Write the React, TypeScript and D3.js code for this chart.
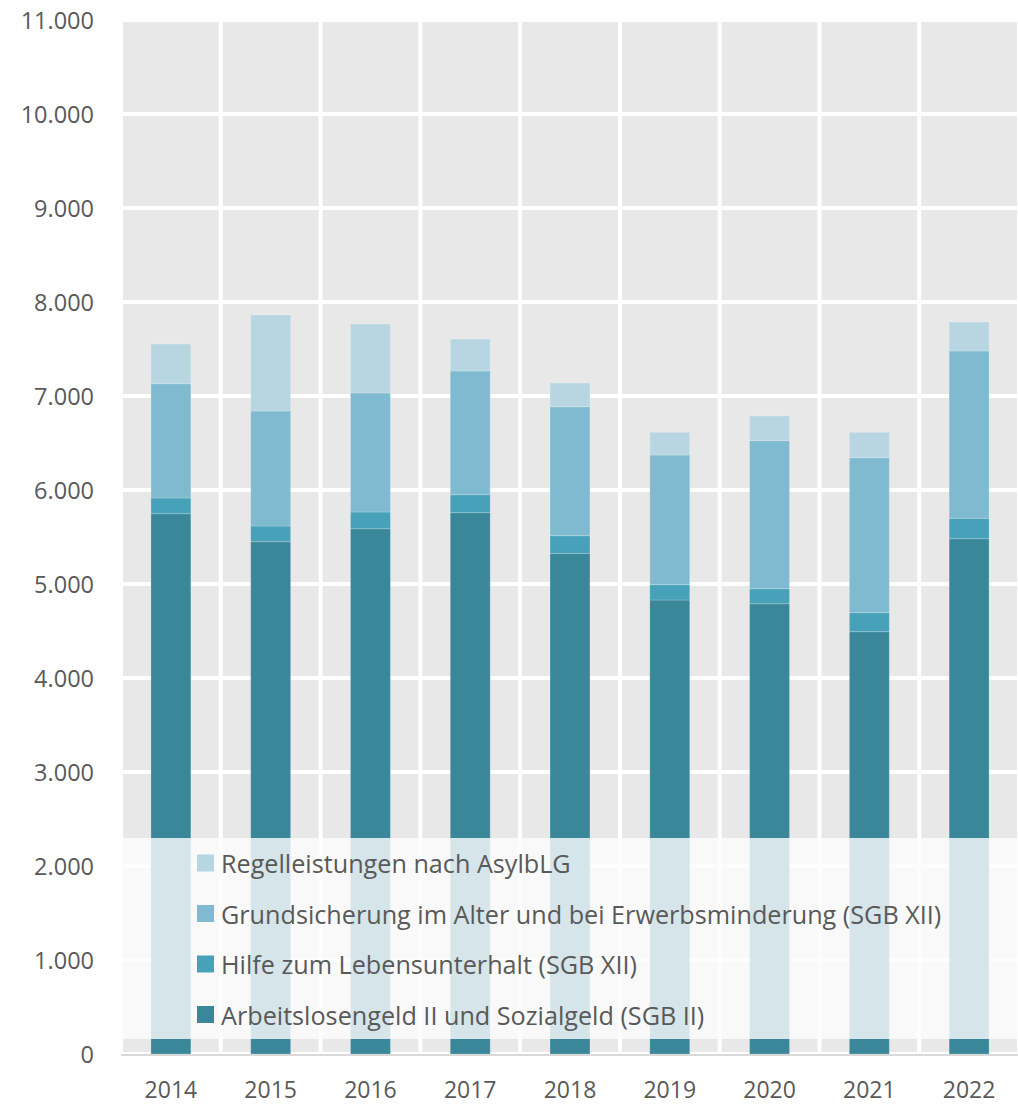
import React from "react";
import * as d3 from "d3";

const years = ["2014", "2015", "2016", "2017", "2018", "2019", "2020", "2021", "2022"];
const seriesNames = [
  "Arbeitslosengeld II und Sozialgeld (SGB II)",
  "Hilfe zum Lebensunterhalt (SGB XII)",
  "Grundsicherung im Alter und bei Erwerbsminderung (SGB XII)",
  "Regelleistungen nach AsylbLG",
];
const arbeitslosengeld = [5748, 5450, 5588, 5759, 5326, 4830, 4790, 4493, 5482];
const hilfeLebensunterhalt = [167, 167, 178, 191, 188, 163, 160, 202, 217];
const grundsicherung = [1216, 1223, 1266, 1316, 1372, 1379, 1575, 1649, 1780];
const asylbLG = [422, 1022, 734, 340, 252, 242, 262, 270, 308];
const colors = ["#3a8799", "#47a1b8", "#7fbad0", "#b8d6e1"];
const yTicks = [0, 1000, 2000, 3000, 4000, 5000, 6000, 7000, 8000, 9000, 10000, 11000];

const W = 1018;
const H = 1106;
const FONT = "'Open Sans', 'Noto Sans', sans-serif";
const TEXT = "#595959";

export default function App() {
  const seriesValues = [arbeitslosengeld, hilfeLebensunterhalt, grundsicherung, asylbLG];
  const rows = years.map((y, i) => {
    const r: any = { year: y };
    seriesNames.forEach((s, k) => (r[s] = seriesValues[k][i]));
    return r;
  });
  const stack = d3.stack().keys(seriesNames)(rows as any);

  const x = d3.scaleBand().domain(years).range([121, 1019]).padding(0);
  const y = d3.scaleLinear().domain([0, 11000]).range([1054, 20]);
  const barW = x.bandwidth() * 0.4;
  const loc = d3.formatLocale({ decimal: ",", thousands: ".", grouping: [3], currency: ["", "€"] });
  const fmt = loc.format(",d");

  const [x0, x1] = x.range();
  const legendTop = 838;
  const legendBottom = 1039;
  const legendOrder = [3, 2, 1, 0];

  return (
    <svg width={W} height={H} style={{ position: "absolute", left: 0, top: 0 }} fontFamily={FONT}>
      <rect x={x0} y={y(11000) - 2} width={x1 - x0} height={y(0) - y(11000) + 2} fill="#e8e8e8" />
      {yTicks.map((t) => (
        <line key={"h" + t} x1={x0} x2={x1} y1={y(t)} y2={y(t)} stroke="#ffffff" strokeWidth={4} />
      ))}
      {years.map((yr) => (
        <line key={"v" + yr} x1={x(yr)!} x2={x(yr)!} y1={y(11000) - 2} y2={y(0)} stroke="#ffffff" strokeWidth={4} />
      ))}
      <line x1={x1} x2={x1} y1={y(11000) - 2} y2={y(0)} stroke="#ffffff" strokeWidth={4} />
      {stack.map((layer, k) => (
        <g key={"s" + k} fill={colors[k]}>
          {layer.map((d, i) => (
            <rect
              key={i}
              x={x(years[i])! + (x.bandwidth() - barW) / 2}
              y={y(d[1])}
              width={barW}
              height={y(d[0]) - y(d[1])}
              stroke="#ffffff"
              strokeOpacity={0.2}
              strokeWidth={1}
            />
          ))}
        </g>
      ))}
      <line x1={x0} x2={x1} y1={y(0) + 1} y2={y(0) + 1} stroke="#d9d9d9" strokeWidth={2} />
      {yTicks.map((t) => (
        <text key={"yl" + t} x={94} y={y(t)} textAnchor="end" dominantBaseline="central" fontSize={23.5} fill={TEXT}>
          {fmt(t)}
        </text>
      ))}
      {years.map((yr) => (
        <text key={"xl" + yr} x={x(yr)! + x.bandwidth() / 2} y={1089} textAnchor="middle" dominantBaseline="central" fontSize={23} fill={TEXT}>
          {yr}
        </text>
      ))}
      <rect x={x0 + 2} y={legendTop} width={x1 - x0 - 4} height={legendBottom - legendTop} fill="#fdfdfd" fillOpacity={0.8} />
      {legendOrder.map((k, j) => {
        const cy = 863 + j * 50.5;
        return (
          <g key={"lg" + k}>
            <rect x={197} y={cy - 8.5} width={17} height={17} fill={colors[k]} />
            <text x={221} y={cy} dominantBaseline="central" fontSize={25.2} fill={TEXT}>
              {seriesNames[k]}
            </text>
          </g>
        );
      })}
    </svg>
  );
}
